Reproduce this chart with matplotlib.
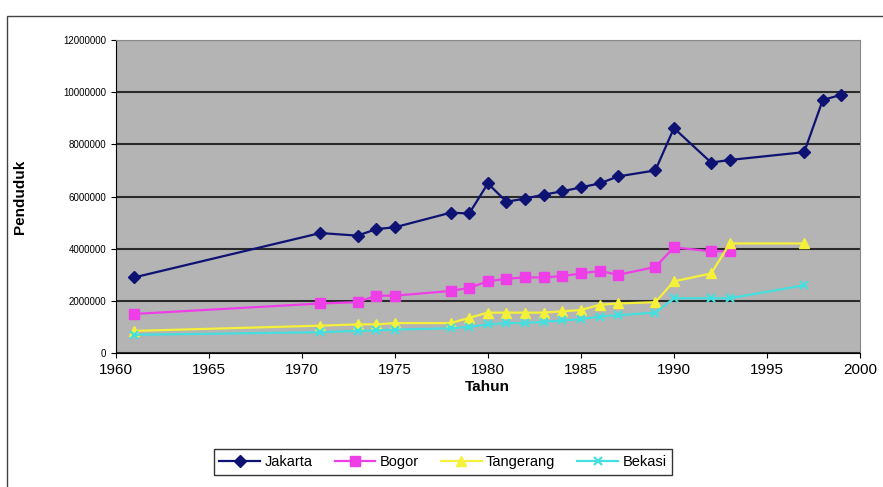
import matplotlib.pyplot as plt
from matplotlib.patches import Rectangle

plt.rcParams['font.family'] = ['Liberation Sans', 'DejaVu Sans']

# data
jak_tahun = [1961, 1971, 1973, 1974, 1975, 1978, 1979, 1980, 1981, 1982, 1983,
             1984, 1985, 1986, 1987, 1989, 1990, 1992, 1993, 1997, 1998, 1999]
jakarta = [2900000, 4600000, 4500000, 4750000, 4820000, 5380000, 5350000, 6500000,
           5800000, 5920000, 6070000, 6200000, 6350000, 6500000, 6770000, 7000000,
           8620000, 7300000, 7400000, 7700000, 9700000, 9900000]

bog_tahun = [1961, 1971, 1973, 1974, 1975, 1978, 1979, 1980, 1981, 1982, 1983,
             1984, 1985, 1986, 1987, 1989, 1990, 1992, 1993]
bogor = [1500000, 1900000, 1950000, 2200000, 2200000, 2380000, 2500000, 2750000,
         2850000, 2900000, 2900000, 2950000, 3050000, 3150000, 3000000, 3300000,
         4050000, 3900000, 3900000]

tgr_tahun = [1961, 1971, 1973, 1974, 1975, 1978, 1979, 1980, 1981, 1982, 1983,
             1984, 1985, 1986, 1987, 1989, 1990, 1992, 1993, 1997]
tangerang = [850000, 1050000, 1100000, 1100000, 1150000, 1150000, 1350000, 1550000,
             1550000, 1550000, 1550000, 1600000, 1650000, 1850000, 1900000, 1950000,
             2750000, 3050000, 4200000, 4200000]

bks_tahun = tgr_tahun
bekasi = [700000, 800000, 850000, 870000, 900000, 950000, 1000000, 1100000,
          1150000, 1150000, 1200000, 1250000, 1300000, 1400000, 1450000, 1550000,
          2100000, 2100000, 2100000, 2600000]

fig = plt.figure(figsize=(8.83, 4.87), dpi=100)
fig.patches.append(Rectangle((7 / 883, -0.1), 1.2, 1 - 16 / 487 + 0.1,
                             transform=fig.transFigure, fill=False,
                             edgecolor='#444444', linewidth=1))
ax = fig.add_axes([0.131, 0.275, 0.843, 0.643])
ax.set_facecolor('#b4b4b4')

ax.plot(jak_tahun, jakarta, '-D', color='#0d1273', markersize=6, linewidth=1.6, label='Jakarta')
ax.plot(bog_tahun, bogor, '-s', color='#ee3ee8', markersize=7, linewidth=1.6, label='Bogor')
ax.plot(tgr_tahun, tangerang, '-^', color='#f5f03a', markersize=7, linewidth=1.6, label='Tangerang')
ax.plot(bks_tahun, bekasi, '-x', color='#45dfe0', markersize=6, markeredgewidth=1.6,
        linewidth=1.6, label='Bekasi')

ax.set_xlim(1960, 2000)
ax.set_ylim(0, 12000000)
ax.set_xticks(range(1960, 2001, 5))
ax.set_yticks(range(0, 12000001, 2000000))
ax.set_yticklabels([str(v) for v in range(0, 12000001, 2000000)], fontsize=7)
ax.tick_params(axis='x', labelsize=11)
ax.yaxis.grid(True, color='#2a2a2a', linewidth=1.5)
ax.set_axisbelow(True)
for s in ['top', 'right']:
    ax.spines[s].set_color('#888888')
ax.set_xlabel('Tahun', fontsize=11, fontweight='bold', labelpad=2)
ax.set_ylabel('Penduduk', fontsize=11, fontweight='bold', labelpad=26)

ax.legend(loc='center', bbox_to_anchor=(443 / 883, 1 - 462 / 487),
          bbox_transform=fig.transFigure, ncol=4, fancybox=False,
          edgecolor='black', fontsize=10.5, handlelength=2.8,
          columnspacing=1.5, handletextpad=0.3, borderpad=0.4)

fig.savefig('out.png', dpi=100)
